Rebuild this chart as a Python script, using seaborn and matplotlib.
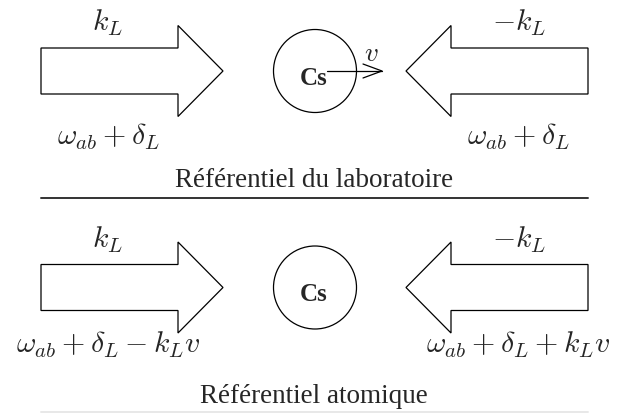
import matplotlib.pyplot as plt
import seaborn as sns
from matplotlib.patches import Polygon, Circle

# diagram content
panel_titles = ["Référentiel du laboratoire", "Référentiel atomique"]
left_wave = [r"$k_L$", r"$k_L$"]
right_wave = [r"$-k_L$", r"$-k_L$"]
left_freq = [r"$\omega_{ab}+\delta_L$", r"$\omega_{ab}+\delta_L-k_Lv$"]
right_freq = [r"$\omega_{ab}+\delta_L$", r"$\omega_{ab}+\delta_L+k_Lv$"]
atom_label = "Cs"
show_velocity = [True, False]
rule_colors = ["#333333", "#e8e8e8"]
rule_offset = [127, 124.5]
freq_offset = [73, 64.5]

sns.set_theme(style="white")
plt.rcParams["mathtext.fontset"] = "cm"
plt.rcParams["font.family"] = ["Liberation Serif", "DejaVu Serif"]

fig = plt.figure(figsize=(6.34, 4.14), dpi=100)
ax = fig.add_axes([0, 0, 1, 1])
ax.set_xlim(0, 634)
ax.set_ylim(414, 0)
ax.axis("off")


def big_arrow(ax, x0, x1, xh, yc, direction):
    # body half-height 23, head half-height 45.5
    if direction > 0:
        pts = [(x0, yc - 23), (xh, yc - 23), (xh, yc - 45.5), (x1, yc),
               (xh, yc + 45.5), (xh, yc + 23), (x0, yc + 23)]
    else:
        pts = [(x1, yc - 23), (xh, yc - 23), (xh, yc - 45.5), (x0, yc),
               (xh, yc + 45.5), (xh, yc + 23), (x1, yc + 23)]
    ax.add_patch(Polygon(pts, closed=True, fill=False, ec="black", lw=0.9))


for i in range(2):
    yc = 72 + 216.5 * i
    big_arrow(ax, 41, 223, 178, yc, 1)
    big_arrow(ax, 406, 588, 451, yc, -1)
    ax.add_patch(Circle((315, yc), 41.5, fill=False, ec="black", lw=0.9))
    ax.text(314, yc + 13, atom_label, ha="center", va="baseline",
            fontsize=18, fontweight="bold")
    if show_velocity[i]:
        ax.plot([327, 382], [yc, yc], color="black", lw=0.9)
        ax.plot([363, 382, 363], [yc - 7, yc, yc + 7], color="black", lw=0.9)
        ax.text(371, yc - 11, r"$v$", ha="center", va="baseline", fontsize=19.5)

    ax.text(108, yc - 41, left_wave[i], ha="center", va="baseline", fontsize=21.5)
    ax.text(519, yc - 41, right_wave[i], ha="center", va="baseline", fontsize=21.5)
    ax.text(108, yc + freq_offset[i], left_freq[i], ha="center", va="baseline", fontsize=21.5)
    ax.text(518, yc + freq_offset[i], right_freq[i], ha="center", va="baseline", fontsize=21.5)

    ax.text(314, yc + 115, panel_titles[i], ha="center", va="baseline", fontsize=19.5)
    ax.plot([41, 588], [yc + rule_offset[i], yc + rule_offset[i]],
            color=rule_colors[i], lw=1.4)

fig.savefig("out.png", dpi=100)
